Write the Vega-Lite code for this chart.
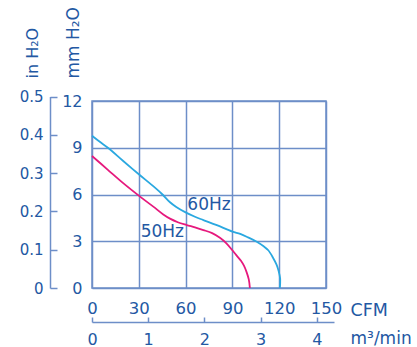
{
  "$schema": "https://vega.github.io/schema/vega-lite/v6.json",
  "width": 234,
  "height": 187,
  "autosize": {"type": "none"},
  "padding": {"left": 92, "top": 101, "right": 91, "bottom": 59},
  "background": "white",
  "config": {
    "view": {"stroke": "#6d8ec8", "strokeWidth": 1.5},
    "font": "DejaVu Sans",
    "axis": {
      "labelFont": "DejaVu Sans",
      "titleFont": "DejaVu Sans",
      "labelColor": "#2358a3",
      "titleColor": "#2358a3",
      "titleFontWeight": "normal",
      "domainColor": "#6d8ec8",
      "tickColor": "#6d8ec8",
      "gridColor": "#6d8ec8",
      "gridOpacity": 1,
      "gridWidth": 1.5,
      "domainWidth": 1.5,
      "tickWidth": 1.5,
      "labelOverlap": false,
      "labelFlush": false
    }
  },
  "datasets": {
    "curves": [
      {"series": "60Hz", "pt": 1, "cfm": 0, "mm": 9.77},
      {"series": "60Hz", "pt": 2, "cfm": 5, "mm": 9.38},
      {"series": "60Hz", "pt": 3, "cfm": 10.4, "mm": 8.98},
      {"series": "60Hz", "pt": 4, "cfm": 20, "mm": 8.15},
      {"series": "60Hz", "pt": 5, "cfm": 30, "mm": 7.3},
      {"series": "60Hz", "pt": 6, "cfm": 40, "mm": 6.47},
      {"series": "60Hz", "pt": 7, "cfm": 45.2, "mm": 6.0},
      {"series": "60Hz", "pt": 8, "cfm": 50, "mm": 5.5},
      {"series": "60Hz", "pt": 9, "cfm": 54, "mm": 5.2},
      {"series": "60Hz", "pt": 10, "cfm": 60, "mm": 4.85},
      {"series": "60Hz", "pt": 11, "cfm": 66, "mm": 4.57},
      {"series": "60Hz", "pt": 12, "cfm": 71.4, "mm": 4.36},
      {"series": "60Hz", "pt": 13, "cfm": 80, "mm": 4.03},
      {"series": "60Hz", "pt": 14, "cfm": 90, "mm": 3.62},
      {"series": "60Hz", "pt": 15, "cfm": 95, "mm": 3.47},
      {"series": "60Hz", "pt": 16, "cfm": 100, "mm": 3.25},
      {"series": "60Hz", "pt": 17, "cfm": 105.6, "mm": 2.97},
      {"series": "60Hz", "pt": 18, "cfm": 110, "mm": 2.68},
      {"series": "60Hz", "pt": 19, "cfm": 113, "mm": 2.42},
      {"series": "60Hz", "pt": 20, "cfm": 116.2, "mm": 1.91},
      {"series": "60Hz", "pt": 21, "cfm": 118.3, "mm": 1.5},
      {"series": "60Hz", "pt": 22, "cfm": 119.6, "mm": 1.1},
      {"series": "60Hz", "pt": 23, "cfm": 120.6, "mm": 0.62},
      {"series": "60Hz", "pt": 24, "cfm": 120.6, "mm": 0.25},
      {"series": "60Hz", "pt": 25, "cfm": 120.4, "mm": 0},
      {"series": "50Hz", "pt": 1, "cfm": 0, "mm": 8.47},
      {"series": "50Hz", "pt": 2, "cfm": 10, "mm": 7.6},
      {"series": "50Hz", "pt": 3, "cfm": 20, "mm": 6.73},
      {"series": "50Hz", "pt": 4, "cfm": 30.6, "mm": 5.88},
      {"series": "50Hz", "pt": 5, "cfm": 39.3, "mm": 5.22},
      {"series": "50Hz", "pt": 6, "cfm": 45.7, "mm": 4.72},
      {"series": "50Hz", "pt": 7, "cfm": 50, "mm": 4.45},
      {"series": "50Hz", "pt": 8, "cfm": 55, "mm": 4.22},
      {"series": "50Hz", "pt": 9, "cfm": 60.7, "mm": 4.04},
      {"series": "50Hz", "pt": 10, "cfm": 66, "mm": 3.89},
      {"series": "50Hz", "pt": 11, "cfm": 71.4, "mm": 3.72},
      {"series": "50Hz", "pt": 12, "cfm": 77, "mm": 3.52},
      {"series": "50Hz", "pt": 13, "cfm": 82, "mm": 3.22},
      {"series": "50Hz", "pt": 14, "cfm": 86, "mm": 2.88},
      {"series": "50Hz", "pt": 15, "cfm": 90, "mm": 2.42},
      {"series": "50Hz", "pt": 16, "cfm": 93, "mm": 2.05},
      {"series": "50Hz", "pt": 17, "cfm": 95.5, "mm": 1.75},
      {"series": "50Hz", "pt": 18, "cfm": 97.4, "mm": 1.43},
      {"series": "50Hz", "pt": 19, "cfm": 99.1, "mm": 1.02},
      {"series": "50Hz", "pt": 20, "cfm": 100.5, "mm": 0.55},
      {"series": "50Hz", "pt": 21, "cfm": 101.2, "mm": 0}
    ],
    "labels": [
      {"label": "60Hz", "cfm": 61.1, "mm": 5.33},
      {"label": "50Hz", "cfm": 31.2, "mm": 3.61}
    ]
  },
  "layer": [
    {
      "layer": [
        {
          "data": {"name": "curves"},
          "mark": {"type": "line", "interpolate": "catmull-rom", "strokeWidth": 1.8},
          "encoding": {
            "x": {
              "field": "cfm", "type": "quantitative",
              "scale": {"domain": [0, 150], "nice": false},
              "axis": {
                "values": [0, 30, 60, 90, 120, 150], "grid": true, "ticks": false, "tickSize": 0,
                "domain": false, "labelPadding": 12, "labelFontSize": 16.5, "labelAngle": 0,
                "title": "CFM", "titleFontSize": 17.5, "titleAlign": "left", "titleBaseline": "middle",
                "titleX": 258, "titleY": 22
              }
            },
            "y": {
              "field": "mm", "type": "quantitative",
              "scale": {"domain": [0, 12], "nice": false},
              "axis": {
                "values": [0, 3, 6, 9, 12], "grid": true, "ticks": false, "tickSize": 0,
                "domain": false, "labelPadding": 10, "labelFontSize": 16,
                "title": "mm H₂O", "titleFontSize": 17, "titleAngle": 270, "titleAlign": "left",
                "titleBaseline": "middle", "titleX": -19, "titleY": -23
              }
            },
            "color": {
              "field": "series", "type": "nominal",
              "scale": {"domain": ["60Hz", "50Hz"], "range": ["#2aa8e0", "#e6197d"]},
              "legend": null
            },
            "order": {"field": "pt", "type": "quantitative"}
          }
        },
        {
          "data": {"name": "labels"},
          "mark": {"type": "text", "align": "left", "baseline": "middle", "fontSize": 17, "font": "DejaVu Sans", "color": "#2358a3"},
          "encoding": {
            "x": {"field": "cfm", "type": "quantitative"},
            "y": {"field": "mm", "type": "quantitative"},
            "text": {"field": "label"}
          }
        }
      ]
    },
    {
      "data": {"values": [{"inh2o": 0}, {"inh2o": 0.5}]},
      "mark": {"type": "point", "opacity": 0},
      "encoding": {
        "y": {
          "field": "inh2o", "type": "quantitative",
          "scale": {"domain": [0, 0.5], "range": [187, -4.5], "nice": false},
          "axis": {
            "orient": "left", "offset": 42, "values": [0, 0.1, 0.2, 0.3, 0.4, 0.5], "format": "~g",
            "grid": false, "tickSize": -7, "labelPadding": 14, "labelFontSize": 15,
            "title": "in H₂O", "titleFontSize": 16, "titleAngle": 270, "titleAlign": "left",
            "titleBaseline": "middle", "titleX": -18, "titleY": -23
          }
        }
      }
    },
    {
      "data": {"values": [{"m3": 0}, {"m3": 4.306}]},
      "mark": {"type": "point", "opacity": 0},
      "encoding": {
        "x": {
          "field": "m3", "type": "quantitative",
          "scale": {"domain": [0, 4.306], "range": [0, 242], "nice": false},
          "axis": {
            "orient": "bottom", "offset": 34, "values": [0, 1, 2, 3, 4],
            "grid": false, "tickSize": -5, "labelPadding": 14, "labelFontSize": 16, "labelAngle": 0,
            "title": "m³/min", "titleFontSize": 17, "titleAlign": "left", "titleBaseline": "middle",
            "titleX": 258, "titleY": 16
          }
        }
      }
    }
  ],
  "resolve": {
    "scale": {"x": "independent", "y": "independent"},
    "axis": {"x": "independent", "y": "independent"}
  }
}
